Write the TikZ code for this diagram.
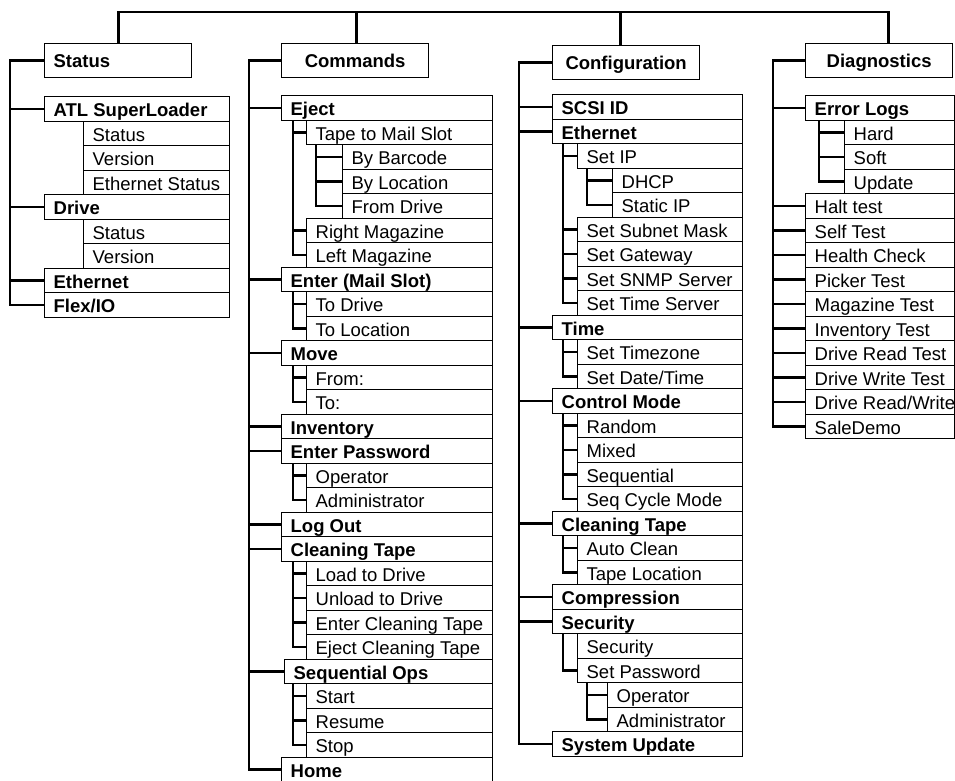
\documentclass[tikz,border=0pt]{standalone}
\usepackage{fontspec}
\setmainfont{Liberation Sans}
\newcommand\rowbox[7]{%
  \pgfmathsetmacro\rbW{#3-#2}%
  \pgfmathsetmacro\rbT{#3-#2-18}%
  \pgfmathsetmacro\rbY{#4+#5*24.5}%
  \node[rbox,#6,minimum width=\rbW pt,anchor=north west] (#1) at (#2,\rbY) {\makebox[\rbT pt][l]{#7}};}
\tikzset{
  rbox/.style={draw=black, fill=white, line width=1.3pt, rectangle, inner xsep=9pt, inner ysep=0pt,
    minimum height=24.5pt, text height=16pt, text depth=0pt, font=\fontsize{18.5}{20}\selectfont},
  lvb/.style={font=\fontsize{18.5}{20}\selectfont\bfseries},
  lvn/.style={},
  hdr/.style={draw=black, fill=white, line width=1.3pt, rectangle, inner xsep=9pt, inner ysep=0pt,
    minimum height=34pt, minimum width=147pt, text height=13pt, text depth=0pt,
    font=\fontsize{18.5}{20}\selectfont\bfseries, anchor=north west},
  conn/.style={draw=black, line width=2.8pt}
}
\begin{document}
\begin{tikzpicture}[x=1pt,y=-1pt]
\useasboundingbox (0,0) rectangle (955,780);
% headers
\node[hdr] (hS) at (44,43) {\makebox[129pt][l]{Status}};
\node[hdr] (hC) at (281,43) {Commands};
\node[hdr] (hF) at (552,45) {Configuration};
\node[hdr] (hD) at (805,43) {Diagnostics};
\coordinate (bar) at (0,12);
% Status column
\rowbox{atl}{44}{229}{96}{0}{lvb}{ATL SuperLoader}
\rowbox{sS1}{83}{229}{96}{1}{lvn}{Status}
\rowbox{sV1}{83}{229}{96}{2}{lvn}{Version}
\rowbox{sE1}{83}{229}{96}{3}{lvn}{Ethernet Status}
\rowbox{drv}{44}{229}{96}{4}{lvb}{Drive}
\rowbox{sS2}{83}{229}{96}{5}{lvn}{Status}
\rowbox{sV2}{83}{229}{96}{6}{lvn}{Version}
\rowbox{sEth}{44}{229}{96}{7}{lvb}{Ethernet}
\rowbox{flex}{44}{229}{96}{8}{lvb}{Flex/IO}
% Commands column
\rowbox{ej}{281}{492}{95}{0}{lvb}{Eject}
\rowbox{tms}{306}{492}{95}{1}{lvn}{Tape to Mail Slot}
\rowbox{byb}{342}{492}{95}{2}{lvn}{By Barcode}
\rowbox{byl}{342}{492}{95}{3}{lvn}{By Location}
\rowbox{fdr}{342}{492}{95}{4}{lvn}{From Drive}
\rowbox{rmag}{306}{492}{95}{5}{lvn}{Right Magazine}
\rowbox{lmag}{306}{492}{95}{6}{lvn}{Left Magazine}
\rowbox{ent}{281}{492}{95}{7}{lvb}{Enter (Mail Slot)}
\rowbox{todr}{306}{492}{95}{8}{lvn}{To Drive}
\rowbox{toloc}{306}{492}{95}{9}{lvn}{To Location}
\rowbox{mv}{281}{492}{95}{10}{lvb}{Move}
\rowbox{from}{306}{492}{95}{11}{lvn}{From:}
\rowbox{to}{306}{492}{95}{12}{lvn}{To:}
\rowbox{inv}{281}{492}{95}{13}{lvb}{Inventory}
\rowbox{epw}{281}{492}{95}{14}{lvb}{Enter Password}
\rowbox{op1}{306}{492}{95}{15}{lvn}{Operator}
\rowbox{ad1}{306}{492}{95}{16}{lvn}{Administrator}
\rowbox{lo}{281}{492}{95}{17}{lvb}{Log Out}
\rowbox{ct}{281}{492}{95}{18}{lvb}{Cleaning Tape}
\rowbox{load}{306}{492}{95}{19}{lvn}{Load to Drive}
\rowbox{unl}{306}{492}{95}{20}{lvn}{Unload to Drive}
\rowbox{ect}{306}{492}{95}{21}{lvn}{Enter Cleaning Tape}
\rowbox{jct}{306}{492}{95}{22}{lvn}{Eject Cleaning Tape}
\rowbox{seq}{284}{492}{95}{23}{lvb}{Sequential Ops}
\rowbox{st}{306}{492}{95}{24}{lvn}{Start}
\rowbox{res}{306}{492}{95}{25}{lvn}{Resume}
\rowbox{stp}{306}{492}{95}{26}{lvn}{Stop}
\rowbox{home}{281}{492}{95}{27}{lvb}{Home}
% Configuration column
\rowbox{scsi}{552}{742}{94}{0}{lvb}{SCSI ID}
\rowbox{ceth}{552}{742}{94}{1}{lvb}{Ethernet}
\rowbox{sip}{577}{742}{94}{2}{lvn}{Set IP}
\rowbox{dhcp}{612}{742}{94}{3}{lvn}{DHCP}
\rowbox{sta}{612}{742}{94}{4}{lvn}{Static IP}
\rowbox{ssm}{577}{742}{94}{5}{lvn}{Set Subnet Mask}
\rowbox{sgw}{577}{742}{94}{6}{lvn}{Set Gateway}
\rowbox{snmp}{577}{742}{94}{7}{lvn}{Set SNMP Server}
\rowbox{stsv}{577}{742}{94}{8}{lvn}{Set Time Server}
\rowbox{time}{552}{742}{94}{9}{lvb}{Time}
\rowbox{stz}{577}{742}{94}{10}{lvn}{Set Timezone}
\rowbox{sdt}{577}{742}{94}{11}{lvn}{Set Date/Time}
\rowbox{cm}{552}{742}{94}{12}{lvb}{Control Mode}
\rowbox{rnd}{577}{742}{94}{13}{lvn}{Random}
\rowbox{mix}{577}{742}{94}{14}{lvn}{Mixed}
\rowbox{sq}{577}{742}{94}{15}{lvn}{Sequential}
\rowbox{scm}{577}{742}{94}{16}{lvn}{Seq Cycle Mode}
\rowbox{cct}{552}{742}{94}{17}{lvb}{Cleaning Tape}
\rowbox{ac}{577}{742}{94}{18}{lvn}{Auto Clean}
\rowbox{tl}{577}{742}{94}{19}{lvn}{Tape Location}
\rowbox{comp}{552}{742}{94}{20}{lvb}{Compression}
\rowbox{sec}{552}{742}{94}{21}{lvb}{Security}
\rowbox{sec2}{577}{742}{94}{22}{lvn}{Security}
\rowbox{spw}{577}{742}{94}{23}{lvn}{Set Password}
\rowbox{op2}{607}{742}{94}{24}{lvn}{Operator}
\rowbox{ad2}{607}{742}{94}{25}{lvn}{Administrator}
\rowbox{su}{552}{742}{94}{26}{lvb}{System Update}
% Diagnostics column
\rowbox{el}{805}{954}{95}{0}{lvb}{Error Logs}
\rowbox{hard}{844}{954}{95}{1}{lvn}{Hard}
\rowbox{soft}{844}{954}{95}{2}{lvn}{Soft}
\rowbox{upd}{844}{954}{95}{3}{lvn}{Update}
\rowbox{halt}{805}{954}{95}{4}{lvn}{Halt test}
\rowbox{self}{805}{954}{95}{5}{lvn}{Self Test}
\rowbox{hc}{805}{954}{95}{6}{lvn}{Health Check}
\rowbox{pt}{805}{954}{95}{7}{lvn}{Picker Test}
\rowbox{mt}{805}{954}{95}{8}{lvn}{Magazine Test}
\rowbox{it}{805}{954}{95}{9}{lvn}{Inventory Test}
\rowbox{drt}{805}{954}{95}{10}{lvn}{Drive Read Test}
\rowbox{dwt}{805}{954}{95}{11}{lvn}{Drive Write Test}
\rowbox{drw}{805}{954}{95}{12}{lvn}{Drive Read/Write}
\rowbox{sd}{805}{954}{95}{13}{lvn}{SaleDemo}
% top bar
\draw[conn] (hS.north) |- ([xshift=9.5pt]hD.north |- bar) -- ([xshift=9.5pt]hD.north);
\draw[conn] ([xshift=1.5pt]hC.north) -- ([xshift=1.5pt]hC.north |- bar);
\draw[conn] ([xshift=-5.5pt]hF.north) -- ([xshift=-5.5pt]hF.north |- bar);
% trunk coordinates
\coordinate (tS) at (10,0);
\coordinate (tC) at (249,0);
\coordinate (tC2) at (293,0);
\coordinate (tC3) at (316,0);
\coordinate (tF) at (519,0);
\coordinate (tF2) at (563,0);
\coordinate (tF3) at (587,0);
\coordinate (tD) at (773,0);
\coordinate (tD2) at (819,0);
% Status connectors
\draw[conn] (hS.west) -- (hS.west -| tS) |- (flex.west);
\foreach \n in {atl,drv,sEth} \draw[conn] (\n.west) -- (\n.west -| tS);
% Commands connectors
\draw[conn] (hC.west) -- (hC.west -| tC) |- (home.west);
\foreach \n in {ej,ent,mv,inv,epw,lo,ct,seq} \draw[conn] (\n.west) -- (\n.west -| tC);
\draw[conn] (ej.south -| tC2) |- (lmag.west);
\foreach \n in {tms,rmag} \draw[conn] (\n.west) -- (\n.west -| tC2);
\draw[conn] (tms.south -| tC3) |- (fdr.west);
\foreach \n in {byb,byl} \draw[conn] (\n.west) -- (\n.west -| tC3);
\draw[conn] (ent.south -| tC2) |- (toloc.west);
\draw[conn] (todr.west) -- (todr.west -| tC2);
\draw[conn] (mv.south -| tC2) |- (to.west);
\draw[conn] (from.west) -- (from.west -| tC2);
\draw[conn] (epw.south -| tC2) |- (ad1.west);
\draw[conn] (op1.west) -- (op1.west -| tC2);
\draw[conn] (ct.south -| tC2) |- (jct.west);
\foreach \n in {load,unl,ect} \draw[conn] (\n.west) -- (\n.west -| tC2);
\draw[conn] (seq.south -| tC2) |- (stp.west);
\foreach \n in {st,res} \draw[conn] (\n.west) -- (\n.west -| tC2);
% Configuration connectors
\draw[conn] (hF.west) -- (hF.west -| tF) |- (su.west);
\foreach \n in {scsi,ceth,time,cm,cct,comp,sec} \draw[conn] (\n.west) -- (\n.west -| tF);
\draw[conn] (ceth.south -| tF2) |- (stsv.west);
\foreach \n in {sip,ssm,sgw,snmp} \draw[conn] (\n.west) -- (\n.west -| tF2);
\draw[conn] (sip.south -| tF3) |- (sta.west);
\draw[conn] (dhcp.west) -- (dhcp.west -| tF3);
\draw[conn] (time.south -| tF2) |- (sdt.west);
\draw[conn] (stz.west) -- (stz.west -| tF2);
\draw[conn] (cm.south -| tF2) |- (scm.west);
\foreach \n in {rnd,mix,sq} \draw[conn] (\n.west) -- (\n.west -| tF2);
\draw[conn] (cct.south -| tF2) |- (tl.west);
\draw[conn] (ac.west) -- (ac.west -| tF2);
\draw[conn] (sec.south -| tF2) |- (spw.west);
\draw[conn] (spw.south -| tF3) |- (ad2.west);
\draw[conn] (op2.west) -- (op2.west -| tF3);
% Diagnostics connectors
\draw[conn] (hD.west) -- (hD.west -| tD) |- (sd.west);
\foreach \n in {el,halt,self,hc,pt,mt,it,drt,dwt,drw} \draw[conn] (\n.west) -- (\n.west -| tD);
\draw[conn] (el.south -| tD2) |- (upd.west);
\foreach \n in {hard,soft} \draw[conn] (\n.west) -- (\n.west -| tD2);
\end{tikzpicture}
\end{document}
